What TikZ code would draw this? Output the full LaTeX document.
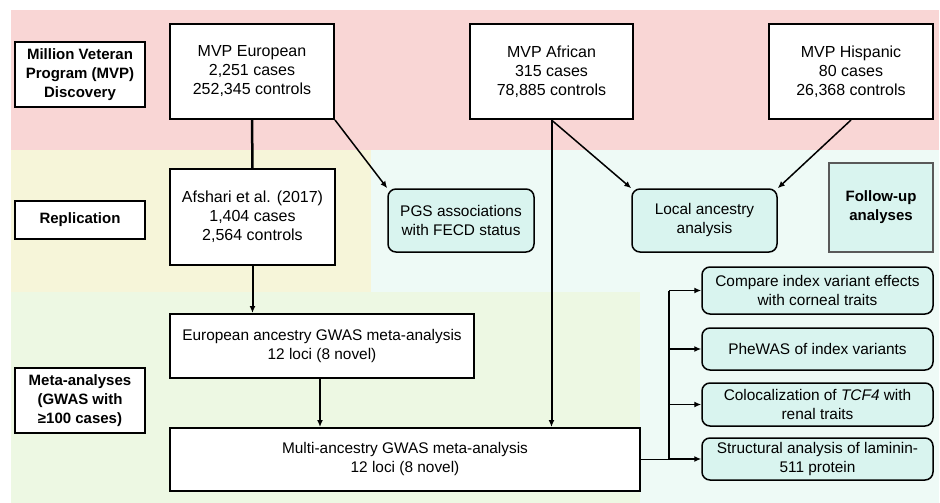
\documentclass[tikz,border=0pt]{standalone}
\usepackage{fontspec}
\setmainfont{Liberation Sans}
\usetikzlibrary{arrows.meta}

\definecolor{discpink}{HTML}{F9D6D5}
\definecolor{repyellow}{HTML}{F6F5D9}
\definecolor{followmint}{HTML}{EEFAF6}
\definecolor{metagreen}{HTML}{EDF8E3}
\definecolor{boxmint}{HTML}{D9F4EF}

\tikzset{
  stage/.style={
    rectangle,
    draw,
    line width=1.5pt,
    fill=white,
    inner sep=2pt,
    minimum width=130pt,
    text centered,
    align=center,
    font=\bfseries\fontsize{15}{19}\selectfont
  },
  cohort/.style={
    rectangle,
    draw,
    line width=2pt,
    fill=white,
    inner sep=2pt,
    minimum width=164pt,
    minimum height=95pt,
    text centered,
    align=center,
    font=\fontsize{16}{19}\selectfont
  },
  meta/.style={
    rectangle,
    draw,
    line width=2pt,
    fill=white,
    inner sep=2pt,
    minimum height=63pt,
    text centered,
    align=center,
    font=\fontsize{15.4}{19}\selectfont
  },
  followup/.style={
    rectangle,
    rounded corners=8pt,
    draw,
    line width=1.5pt,
    fill=boxmint,
    inner sep=2pt,
    text centered,
    align=center,
    font=\fontsize{15.4}{19}\selectfont
  },
  link/.style={line width=1.5pt},
}

\begin{document}
\begin{tikzpicture}[x=1pt, y=-1pt, >={Latex[length=7pt,width=6pt]}]
  \useasboundingbox (0,0) rectangle (940,503);
  % stage bands
  \fill[discpink] (11,10) rectangle (939,150);
  \fill[repyellow] (11,150) rectangle (371,292);
  \fill[followmint] (371,150) rectangle (939,503);
  \fill[metagreen] (11,292) rectangle (640,503);

  % stage labels
  \node[stage, anchor=center, minimum height=65pt] (disc) at (80, 74.5) {Million Veteran\\Program (MVP)\\Discovery};
  \node[stage, anchor=center, minimum height=38pt] (rep) at (80, 220) {Replication};
  \node[stage, anchor=center, minimum height=65pt] (metalab) at (80, 400.5) {Meta-analyses\\(GWAS with\\≥100 cases)};

  % cohorts
  \node[cohort, anchor=center] (eur) at (252, 71.5) {MVP European\\2,251 cases\\252,345 controls};
  \node[cohort, anchor=center, minimum width=163pt] (afr) at (551.5, 71.5) {MVP African\\315 cases\\78,885 controls};
  \node[cohort, anchor=center] (his) at (851, 71.5) {MVP Hispanic\\80 cases\\26,368 controls};
  \node[cohort, anchor=center, minimum width=165pt, minimum height=96pt] (afs) at (252.5, 217) {Afshari et al. (2017)\\1,404 cases\\2,564 controls};

  % meta-analyses
  \node[meta, anchor=center, minimum width=304pt, minimum height=64pt] (eurmeta) at (322, 346) {European ancestry GWAS meta-analysis\\12 loci (8 novel)};
  \node[meta, anchor=center, minimum width=470pt] (multi) at (405, 459.5) {Multi-ancestry GWAS meta-analysis\\12 loci (8 novel)};

  % follow-up analyses
  \node[followup, anchor=center, minimum width=146pt, minimum height=63pt] (pgs) at (461, 220.5) {PGS associations\\with FECD status};
  \node[followup, anchor=center, minimum width=145pt, minimum height=63pt] (local) at (704.5, 220.5) {Local ancestry\\analysis};
  \node[stage, anchor=center, draw=black!65, fill=boxmint, minimum width=104pt, minimum height=89pt] (follow) at (881, 207.5) {Follow-up\\analyses};
  \node[followup, anchor=center, minimum width=231pt, minimum height=47pt] (cmp) at (817.5, 290.5) {Compare index variant effects\\with corneal traits};
  \node[followup, anchor=center, minimum width=231pt, minimum height=42pt] (phe) at (817.5, 349) {PheWAS of index variants};
  \node[followup, anchor=center, minimum width=231pt, minimum height=43pt] (coloc) at (817.5, 404.5) {Colocalization of \textit{TCF4} with\\renal traits};
  \node[followup, anchor=center, minimum width=231pt, minimum height=42pt] (struct) at (817.5, 459) {Structural analysis of laminin-\\511 protein};

  % connectors
  \draw[line width=2.5pt] (eur) -- (afs);
  \draw[->, line width=2pt] (afs.south) -- (afs.south |- eurmeta.north);
  \coordinate (drop) at (320, 378);
  \draw[->, line width=2pt] (drop) -- (drop |- multi.north);
  \draw[->, line width=2pt] (afr.south) -- (afr.south |- multi.north);
  \draw[->, link] (eur.south east) -- (pgs.north west);
  \draw[->, link] (afr.south) -- (local.north west);
  \draw[->, link] (his.south) -- (local.north east);
  \coordinate (bus) at (669, 459.5);
  \draw[link] (multi.east) -- (bus);
  \draw[link] (bus) -- (bus |- cmp.west);
  \foreach \task in {cmp, phe, coloc, struct}
    \draw[->, link] (bus |- \task.west) -- (\task.west);
\end{tikzpicture}
\end{document}
